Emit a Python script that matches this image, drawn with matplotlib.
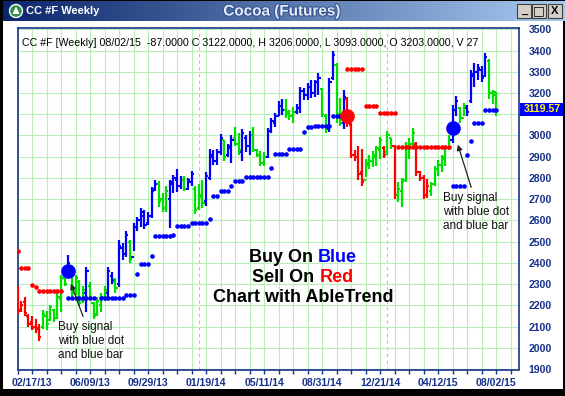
import numpy as np
import matplotlib
matplotlib.use('Agg')
import matplotlib.pyplot as plt
from matplotlib.patches import Rectangle, Circle, Polygon, FancyArrowPatch
from matplotlib.transforms import Bbox
import matplotlib.patheffects as pe

plt.rcParams['font.family'] = ['Liberation Sans', 'DejaVu Sans']

# weekly bars, week 0 = 02/17/13
weeks = list(range(-4, 129))
# bar colour runs: (colour, number of weeks)
color_runs = [('r', 7), ('g', 7), ('b', 1), ('g', 4), ('b', 1), ('g', 5), ('b', 2), ('g', 1),
              ('b', 3), ('g', 1), ('b', 7), ('g', 3), ('b', 4), ('g', 1), ('b', 2), ('g', 3),
              ('b', 5), ('g', 1), ('b', 2), ('g', 2), ('b', 3), ('g', 4), ('b', 5), ('g', 3),
              ('b', 7), ('g', 2), ('b', 2), ('g', 2), ('b', 1), ('r', 5), ('g', 5), ('r', 1),
              ('g', 2), ('r', 1), ('g', 5), ('r', 4), ('g', 6), ('b', 2), ('g', 2), ('b', 6),
              ('g', 3)]
highs = [2290, 2220, 2240, 2160, 2150, 2135, 2110, 2180, 2175, 2200, 2185, 2260, 2345, 2350, 2435,
         2355, 2345, 2320, 2290, 2380, 2310, 2215, 2240, 2260, 2290, 2380, 2355, 2330, 2510, 2495,
         2550, 2510, 2590, 2615, 2660, 2650, 2640, 2755, 2790, 2785, 2730, 2760, 2790, 2815, 2840,
         2810, 2810, 2800, 2835, 2760, 2770, 2790, 2830, 2935, 2930, 2935, 3005, 2980, 2960, 3000,
         3040, 3010, 3030, 3000, 3020, 3040, 2935, 2925, 2920, 3036, 3083, 3106, 3160, 3170, 3170,
         3120, 3135, 3150, 3230, 3224, 3245, 3260, 3260, 3294, 3224, 3100, 3270, 3400, 3341, 3177,
         3215, 3180, 3060, 2930, 2950, 2935, 2890, 2910, 2925, 2950, 2995, 2950, 3020, 2990, 2955,
         2780, 2800, 2970, 2990, 3035, 2970, 2835, 2815, 2795, 2780, 2855, 2885, 2910, 2950, 3000,
         3145, 3185, 3135, 3155, 3145, 3310, 3340, 3335, 3325, 3390, 3360, 3215, 3206]
lows = [2160, 2170, 2150, 2100, 2085, 2070, 2030, 2090, 2085, 2125, 2120, 2135, 2170, 2290, 2330,
        2240, 2250, 2195, 2210, 2170, 2230, 2135, 2150, 2170, 2220, 2240, 2300, 2260, 2285, 2415,
        2430, 2400, 2455, 2550, 2570, 2560, 2580, 2610, 2740, 2665, 2640, 2640, 2565, 2730, 2735,
        2750, 2740, 2745, 2760, 2630, 2650, 2660, 2670, 2790, 2860, 2860, 2910, 2880, 2900, 2870,
        2950, 2910, 2880, 2920, 2910, 2920, 2900, 2855, 2855, 2896, 3013, 3042, 3090, 3095, 3080,
        3074, 3060, 3100, 3106, 3168, 3168, 3175, 3180, 3191, 3088, 3013, 3015, 3260, 3060, 3043,
        3030, 3040, 2895, 2880, 2790, 2760, 2805, 2840, 2850, 2855, 2890, 2895, 2910, 2935, 2700,
        2685, 2665, 2780, 2890, 2950, 2810, 2785, 2700, 2705, 2715, 2760, 2810, 2830, 2855, 2930,
        2965, 3090, 3060, 3090, 3090, 3155, 3230, 3260, 3250, 3275, 3170, 3150, 3093]
opens = [2280, 2180, 2215, 2150, 2120, 2100, 2095, 2100, 2150, 2130, 2180, 2140, 2230, 2330, 2340,
         2350, 2270, 2310, 2220, 2260, 2290, 2210, 2160, 2200, 2240, 2260, 2340, 2310, 2300, 2470,
         2440, 2500, 2430, 2570, 2600, 2620, 2590, 2620, 2750, 2770, 2700, 2660, 2700, 2770, 2790,
         2760, 2790, 2750, 2780, 2750, 2660, 2710, 2690, 2800, 2900, 2880, 2920, 2980, 2910, 2940,
         2990, 2960, 2920, 2990, 2950, 3000, 2930, 2910, 2870, 2900, 3020, 3060, 3090, 3140, 3120,
         3110, 3090, 3110, 3130, 3210, 3190, 3230, 3200, 3250, 3220, 3090, 3030, 3270, 3330, 3100,
         3060, 3170, 3050, 2910, 2900, 2830, 2790, 2860, 2880, 2900, 2930, 2940, 2920, 2990, 2950,
         2720, 2740, 2790, 2950, 2960, 2960, 2830, 2800, 2720, 2740, 2770, 2840, 2860, 2890, 2940,
         2980, 3120, 3130, 3080, 3130, 3160, 3280, 3300, 3310, 3280, 3350, 3200, 3203]
closes = [2175, 2200, 2165, 2110, 2095, 2090, 2050, 2160, 2110, 2190, 2140, 2240, 2330, 2300, 2400,
          2260, 2330, 2210, 2270, 2360, 2240, 2150, 2220, 2240, 2270, 2360, 2320, 2280, 2480, 2440,
          2530, 2420, 2570, 2600, 2640, 2580, 2620, 2740, 2770, 2690, 2660, 2740, 2780, 2800, 2760,
          2790, 2750, 2790, 2820, 2650, 2720, 2680, 2810, 2910, 2880, 2920, 2990, 2900, 2950, 2980,
          2960, 2930, 3010, 2950, 3000, 2930, 2910, 2870, 2900, 3020, 3070, 3090, 3140, 3120, 3100,
          3090, 3110, 3130, 3210, 3190, 3230, 3200, 3250, 3270, 3100, 3030, 3250, 3380, 3100, 3060,
          3180, 3060, 2910, 2900, 2820, 2780, 2870, 2880, 2910, 2940, 2980, 2910, 3000, 2950, 2720,
          2750, 2780, 2950, 2960, 3010, 2830, 2800, 2720, 2760, 2770, 2840, 2860, 2900, 2940, 2980,
          3120, 3160, 3080, 3140, 3110, 3290, 3300, 3320, 3270, 3370, 3200, 3190, 3122]

# AbleTrend stop dots: (first week, last week, price)
red_stops = [(-4, -4, 2455), (-3, -1, 2378), (0, 0, 2295), (1, 1, 2285), (2, 8, 2268),
             (87, 91, 3313), (92, 95, 3137), (96, 100, 3106), (101, 115, 2945)]
blue_stops = [(10, 17, 2233), (19, 25, 2237), (26, 28, 2249), (29, 29, 2350), (30, 32, 2397),
              (33, 33, 2432), (34, 38, 2526), (39, 39, 2533), (40, 43, 2575), (44, 48, 2590),
              (49, 49, 2609), (50, 51, 2714), (52, 54, 2737), (55, 55, 2760), (56, 58, 2784),
              (59, 65, 2805), (66, 66, 2849), (67, 70, 2915), (71, 74, 2938), (75, 75, 3014),
              (76, 77, 3038), (78, 82, 3046), (83, 86, 3090), (116, 119, 2761), (120, 120, 2910),
              (121, 121, 2972), (122, 124, 3060), (125, 128, 3121)]

signal_weeks = [10, 87, 116]
signal_prices = [2360, 3090, 3036]
signal_colors = ['b', 'r', 'b']

date_labels = ['02/17/13', '06/09/13', '09/29/13', '01/19/14', '05/11/14',
               '08/31/14', '12/21/14', '04/12/15', '08/02/15']
year_start_weeks = [46, 98]
last_price = 3119.57

bar_color = ''.join(c * n for c, n in color_runs)
assert len(bar_color) == len(weeks) == len(highs) == len(lows) == len(opens) == len(closes)

W, H = 565, 396
cmap = {'r': '#ff0000', 'g': '#00e000', 'b': '#0000ff'}
navy = '#17318a'

fig = plt.figure(figsize=(W / 100, H / 100), dpi=100)
fig.patch.set_facecolor('white')

ax = fig.add_axes([17.5 / W, 1 - 369.5 / H, (519 - 17.5) / W, (369.5 - 28) / H])
ax.set_xlim(-4.0, 134.3)
ax.set_ylim(1898, 3506)

# bars
for i, w in enumerate(weeks):
    c = cmap[bar_color[i]]
    ax.vlines(w, lows[i], highs[i], color=c, lw=1.6, zorder=3)
    ax.hlines(opens[i], w - 0.6, w, color=c, lw=1.5, zorder=3)
    ax.hlines(closes[i], w, w + 0.6, color=c, lw=1.5, zorder=3)

for s, e, v in red_stops:
    ws = np.arange(s, e + 1)
    ax.plot(ws, [v] * len(ws), '-o', color='#ff0000', ms=2.3, lw=0.8, zorder=4)
for s, e, v in blue_stops:
    ws = np.arange(s, e + 1)
    ax.plot(ws, [v] * len(ws), '-o', color='#0000ff', ms=2.3, lw=0.8, zorder=4)

for w, p, c in zip(signal_weeks, signal_prices, signal_colors):
    ax.plot(w, p, 'o', color=cmap[c], ms=9.5, zorder=5)

# axes styling
xt = np.arange(-4, 133, 4)
ax.set_xticks(xt)
ax.set_xticklabels([date_labels[t // 16] if t >= 0 and t % 16 == 0 else '' for t in xt])
ax.yaxis.tick_right()
yt = np.arange(1900, 3501, 100)
ax.set_yticks(yt)
ax.set_yticklabels(['' if v == 3100 else str(v) for v in yt])
ax.grid(True, color='#b8eeb8', lw=0.8, zorder=0)
for w in year_start_weeks:
    ax.axvline(w, color='#9ed69e', lw=0.8, ls=(0, (3, 3)), zorder=1)
ax.tick_params(axis='x', length=3, width=1, color=navy, pad=3, labelsize=7.6, labelcolor=navy)
ax.tick_params(axis='y', length=0, pad=7, labelsize=7.6, labelcolor=navy)
for lab in ax.get_xticklabels() + ax.get_yticklabels():
    lab.set_fontweight('bold')
for sp in ax.spines.values():
    sp.set_color(navy)
    sp.set_linewidth(1.2)


def fx(x):
    return x / W


def fy(y):
    return 1 - y / H


# header line
hdr = fig.text(fx(22), fy(43), "CC #F [Weekly] 08/02/15  -87.0000 C 3122.0000, H 3206.0000, "
               "L 3093.0000, O 3203.0000, V 27.3", fontsize=7.65, color='black', va='center', ha='left')
hdr.set_clip_box(Bbox.from_extents(17, 0, 478, H))

# annotations
for tx, ty, ax0, ay0, ax1, ay1 in [(58, 341, 84, 319, 70, 281), (443, 212, 472, 190, 457, 142)]:
    fig.text(fx(tx), fy(ty), "Buy signal\nwith blue dot\nand blue bar", fontsize=8.5,
             va='center', ha='left', color='#111111')
    fig.add_artist(FancyArrowPatch(
        (fx(ax0), fy(ay0)), (fx(ax1), fy(ay1)), transform=fig.transFigure,
        arrowstyle='-|>', mutation_scale=8, lw=0.9, color='#222222'))

renderer = fig.canvas.get_renderer()


def two_color(left, right, rcolor, xc, y):
    full = fig.text(0, 0, left + ' ' + right, fontsize=13, fontweight='bold')
    wpx = full.get_window_extent(renderer).width
    full.remove()
    x0 = xc - wpx / 2
    fig.text(fx(x0), fy(y), left, fontsize=13, fontweight='bold', color='black', va='center', ha='left')
    fig.text(fx(x0 + wpx), fy(y), right, fontsize=13, fontweight='bold', color=rcolor,
             va='center', ha='right')


two_color('Buy On', 'Blue', '#0000ff', 303, 258)
two_color('Sell On', 'Red', '#ff0000', 303, 277)
fig.text(fx(303), fy(297), 'Chart with AbleTrend', fontsize=13, fontweight='bold',
         color='black', va='center', ha='center')

# last price box
fig.add_artist(Rectangle((fx(520), fy(116)), 45 / W, 13 / H, transform=fig.transFigure,
                         facecolor='#0000ff', edgecolor='none', zorder=10))
fig.text(fx(542.5), fy(109.5), f'{last_price:.2f}', fontsize=7.6, fontweight='bold',
         color='#ffff00', ha='center', va='center', zorder=11)

# title bar
tb = fig.add_axes([0, 1 - 21 / H, 1, 21 / H])
grad = np.linspace(0, 1, 300)
c0 = np.array([10, 36, 106]) / 255
c1 = np.array([166, 202, 240]) / 255
img = (c0[None, None, :] * (1 - grad[None, :, None]) + c1[None, None, :] * grad[None, :, None])
tb.imshow(img, aspect='auto', extent=[0, W, 21, 0])
tb.set_xlim(0, W)
tb.set_ylim(21, 0)
tb.axis('off')
tb.add_patch(Circle((16, 11), 6.5, facecolor='#2f8f4f', edgecolor='white', lw=1))
tb.add_patch(Polygon([[16, 6.5], [12.5, 14], [19.5, 14]], closed=True, facecolor='white'))
tb.text(26, 10.5, 'CC #F Weekly', color='white', fontsize=8, fontweight='bold', va='center', ha='left')
tb.text(282, 11.5, 'Cocoa (Futures)', color='#e6edf9', fontsize=11, fontweight='bold',
        va='center', ha='center', path_effects=[pe.withStroke(linewidth=1.5, foreground='#34528f')])
for bx, sym in [(517, '_'), (532, '□'), (548, 'X')]:
    tb.add_patch(Rectangle((bx, 4), 14, 14, facecolor='#d4d0c8', edgecolor='#404040', lw=0.8))
    tb.text(bx + 7, 11, sym, fontsize=8 if sym != '□' else 9, fontweight='bold', color='black',
            ha='center', va='center', family=['DejaVu Sans'] if sym == '□' else None)

# window frame
for x, y, w, h in [(0, 0, 3, H), (0, 389, W, 7), (562.5, 21, 2.5, H), (0, 0, W, 1.2)]:
    fig.add_artist(Rectangle((fx(x), fy(y + h)), w / W, h / H, transform=fig.transFigure,
                             facecolor='black', edgecolor='none', zorder=20))

fig.savefig('out.png', dpi=100)
